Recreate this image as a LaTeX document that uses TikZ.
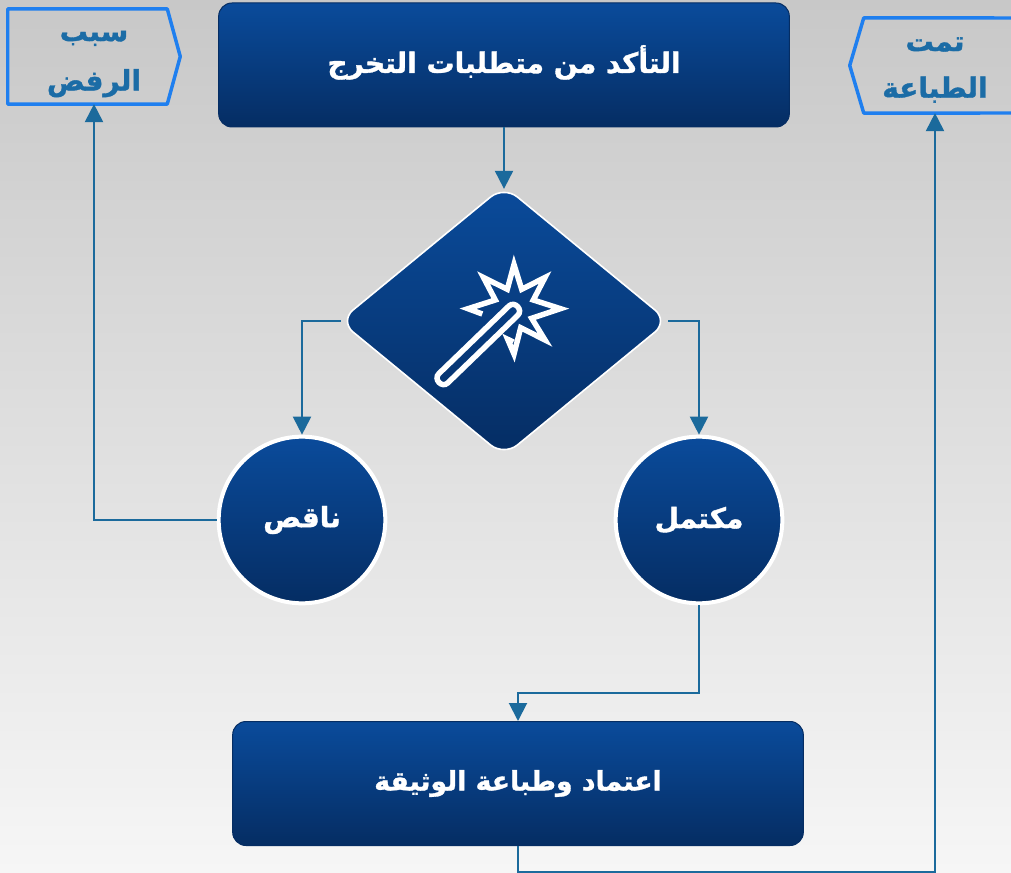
\documentclass[tikz,border=0pt]{standalone}
\usepackage{fontspec}
\usetikzlibrary{shapes.geometric,arrows.meta}
\TeXXeTstate=1
\newfontfamily\arabicfont[Script=Arabic,BoldFeatures={FakeBold=1.2}]{DejaVu Sans}
\definecolor{bgtop}{HTML}{C8C8C8}
\definecolor{bgbot}{HTML}{F6F6F6}
\definecolor{navytop}{HTML}{0A4B9B}
\definecolor{navybot}{HTML}{052D63}
\definecolor{edgeblue}{HTML}{1B6A9C}
\definecolor{tagblue}{HTML}{1F7FEF}
\definecolor{tagtext}{HTML}{1B6CA6}
\tikzset{
  x=0.75pt,y=-0.75pt,
  navy/.style={top color=navytop,bottom color=navybot,text=white,font=\arabicfont\bfseries\fontsize{21pt}{25pt}\selectfont,align=center,inner sep=0pt},
  procbox/.style={navy,draw=navybot,line width=0.75pt,rounded corners=10pt,minimum width=428pt,minimum height=93pt},
  decide/.style={navy,diamond,draw=white,line width=1.2pt,rounded corners=13pt,minimum width=247pt,minimum height=203pt},
  stateball/.style={navy,circle,draw=white,line width=3pt,minimum size=125pt},
  tagnode/.style={inner sep=0pt,text=tagtext,align=center,font=\arabicfont\bfseries\fontsize{21pt}{37pt}\selectfont},
  tagline/.style={draw=tagblue,line width=2.6pt,line join=round},
  conn/.style={draw=edgeblue,line width=1.5pt,-{Triangle[length=13.5pt,width=13.5pt]}},
  wand/.style={draw=white,line width=4.1pt,line join=miter,miter limit=12}
}
\begin{document}
\begin{tikzpicture}
\useasboundingbox (0,0) rectangle (1011,873);
\fill[top color=bgtop,bottom color=bgbot] (0,0) rectangle (1011,873);

\node[procbox] (verify) at (504,65) {\rule[-9pt]{0pt}{1pt}\beginR التأكد من متطلبات التخرج\endR};
\node[decide] (check) at (504,321) {};
\node[stateball] (missing) at (302,520) {\beginR ناقص\endR};
\node[stateball] (complete) at (699,520) {\beginR مكتمل\endR};
\node[procbox,font=\arabicfont\bfseries\fontsize{20pt}{25pt}\selectfont] (approve) at (518,783.5) {\beginR اعتماد وطباعة الوثيقة\endR};

\node[tagnode,minimum width=129pt,minimum height=71pt] (reason) at (94,56.5) {\rule{0pt}{19pt}\beginR سبب\endR\\\beginR الرفض\endR};
\node[tagnode,minimum width=127.5pt,minimum height=71pt] (printed) at (935,65.5) {\rule{0pt}{17pt}\beginR تمت\endR\\[-2pt]\beginR الطباعة\endR};
\coordinate (printedtop) at (1011,18);
\coordinate (printedbot) at (1011,113);

\draw[tagline] (reason.north west) -- ([xshift=-9.75pt]reason.north east) -- (reason.east) -- ([xshift=-9.75pt]reason.south east) -- (reason.south west) -- cycle;
\draw[tagline] (printedtop) -- ([xshift=10.5pt]printed.north west) -- (printed.west) -- ([xshift=10.5pt]printed.south west) -- (printedbot);

\draw[conn,shorten >=-3pt] (verify.south) -- (check.north);
\draw[conn,shorten <=-1.5pt] (check.west) -| (missing.north);
\draw[conn,shorten <=-0.75pt] (check.east) -| (complete.north);
\draw[conn] (missing.west) -| (reason.south);
\coordinate (jog1) at (518,693);
\draw[conn] (complete.south) |- (jog1) -- (approve.north);
\coordinate (jog2) at (518,872);
\draw[conn] (approve.south) -- (jog2) -| (printed.south);

% wand icon
\draw[wand] (447.7,383) -- (517.7,315.4) .. controls (523.5,309.9) and (514.7,300.5) .. (508.9,306) -- (438.9,373.6) .. controls (433.1,379.1) and (441.9,388.5) .. (447.7,383) -- cycle;
% star
\draw[wand] (482.3,314) -- (468,308.7) -- (495.3,300) -- (483.5,277.5) -- (507.3,289.3) -- (514,264.5) -- (521.7,289.3) -- (545,277.5) -- (533.3,300) -- (560.5,308.7) -- (531.7,318.3) -- (545,340) -- (520.7,327.7) -- (514,354) -- (507.7,339.3) -- (513.3,342);
\end{tikzpicture}
\end{document}
